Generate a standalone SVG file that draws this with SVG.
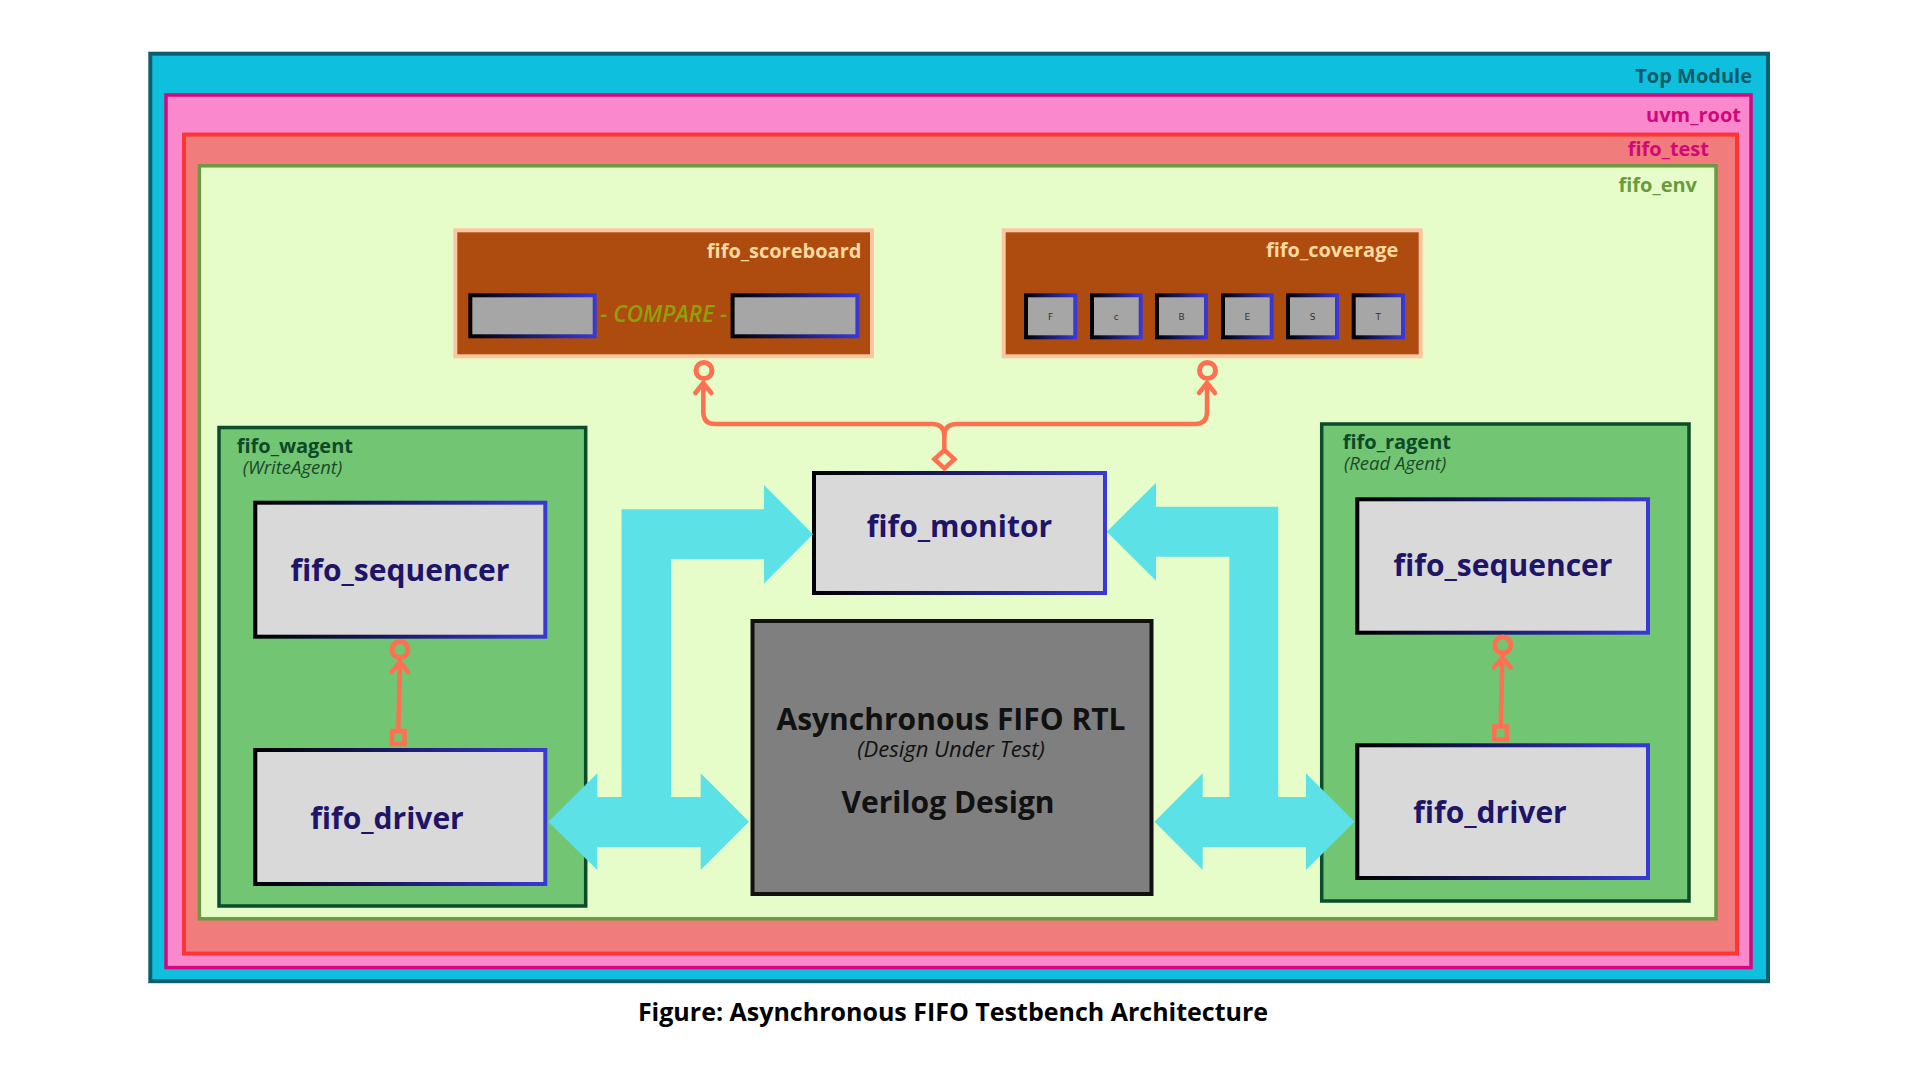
<svg xmlns="http://www.w3.org/2000/svg" width="1920" height="1080" viewBox="0 0 1920 1080">
<defs>
<linearGradient id="bk2bl" x1="0" y1="0" x2="1" y2="0">
<stop offset="0" stop-color="#000000"/>
<stop offset="1" stop-color="#3a38d6"/>
</linearGradient>
<style>
text{font-family:"Open Sans","Liberation Sans",sans-serif}
.lbl{font-size:20px;font-weight:700;text-anchor:end}
.box{fill:#d9d9d9;stroke:url(#bk2bl);stroke-width:4}
.boxt{font-size:30px;font-weight:700;fill:#1e1468;text-anchor:middle}
.agent{fill:#72c573;stroke:#0b4d2a;stroke-width:3.5}
.agt{font-size:20px;font-weight:700;fill:#0c4a28}
.agi{font-size:18.5px;font-style:italic;fill:#1a4a2a}
.sb{fill:#ae4c10;stroke:#fdc6a0;stroke-width:4}
.sbt{font-size:20px;font-weight:700;fill:#f8d9a0;text-anchor:end}
.gbox{fill:#a6a6a6;stroke:url(#bk2bl);stroke-width:4}
.cl{font-family:"DejaVu Sans",sans-serif;font-size:9px;fill:#333;text-anchor:middle}
.con{fill:none;stroke:#ff7050;stroke-width:4.5;stroke-linecap:round;stroke-linejoin:round}
.bus{fill:#5ce1e6}
.dut{font-weight:700;fill:#111;text-anchor:middle}
</style>
</defs>
<rect width="1920" height="1080" fill="#ffffff"/>

<g id="top_module">
<rect x="150.3" y="53.7" width="1617.7" height="927.5" fill="#0ec0de" stroke="#0a5f6f" stroke-width="4"/>
<text class="lbl" x="1752" y="82.7" fill="#0b5c6b">Top Module</text>
</g>
<g id="uvm_root">
<rect x="166" y="95" width="1585" height="872.6" fill="#f989cc" stroke="#d4087e" stroke-width="3.5"/>
<text class="lbl" x="1741" y="121.7" fill="#cf087a">uvm_root</text>
</g>
<g id="fifo_test">
<rect x="184" y="134.6" width="1553" height="819" fill="#f07c7b" stroke="#ff3535" stroke-width="4"/>
<text class="lbl" x="1709" y="155.7" fill="#d0087a">fifo_test</text>
</g>
<g id="fifo_env">
<rect x="199.4" y="165.8" width="1516.6" height="753" fill="#e6fdca" stroke="#6c9a44" stroke-width="3.5"/>
<text class="lbl" x="1697" y="191.7" fill="#6a9a3e">fifo_env</text>
</g>

<g id="fifo_scoreboard">
<rect class="sb" x="455.3" y="230.3" width="416.7" height="126"/>
<text class="sbt" x="861.4" y="258.3">fifo_scoreboard</text>
<rect class="gbox" x="470.3" y="295.3" width="124.4" height="41"/>
<rect class="gbox" x="732.6" y="295.3" width="124.8" height="41"/>
<text x="663.6" y="322" font-size="22.5" font-style="italic" font-weight="600" fill="#8fa10a" text-anchor="middle">- COMPARE -</text>
</g>

<g id="fifo_coverage">
<rect class="sb" x="1003.7" y="230.3" width="417" height="126"/>
<text class="sbt" x="1398.3" y="256.7">fifo_coverage</text>
<rect class="gbox" x="1026" y="295.3" width="49.3" height="42"/>
<rect class="gbox" x="1092" y="295.3" width="48.7" height="42"/>
<rect class="gbox" x="1157" y="295.3" width="49" height="42"/>
<rect class="gbox" x="1223" y="295.3" width="48.7" height="42"/>
<rect class="gbox" x="1288" y="295.3" width="49" height="42"/>
<rect class="gbox" x="1353.7" y="295.3" width="49.3" height="42"/>
<text class="cl" x="1050.7" y="320">F</text>
<text class="cl" x="1116.3" y="320">c</text>
<text class="cl" x="1181.5" y="320">B</text>
<text class="cl" x="1247.3" y="320">E</text>
<text class="cl" x="1312.5" y="320">S</text>
<text class="cl" x="1378.3" y="320">T</text>
</g>

<g id="fifo_wagent">
<rect class="agent" x="219" y="427.5" width="366.7" height="478.5"/>
<text class="agt" x="236.7" y="453">fifo_wagent</text>
<text class="agi" x="242.7" y="473.5">(WriteAgent)</text>
</g>
<g id="w_sequencer">
<rect class="box" x="255.3" y="502.7" width="290" height="134"/>
<text class="boxt" x="400" y="580.6">fifo_sequencer</text>
</g>
<g id="w_driver">
<rect class="box" x="255.3" y="750" width="290" height="134"/>
<text class="boxt" x="387" y="829">fifo_driver</text>
</g>

<g id="fifo_ragent">
<rect class="agent" x="1321.7" y="424" width="367.3" height="477"/>
<text class="agt" x="1342.7" y="449">fifo_ragent</text>
<text class="agi" x="1344" y="470">(Read Agent)</text>
</g>
<g id="r_sequencer">
<rect class="box" x="1357.3" y="499.3" width="290.7" height="133.4"/>
<text class="boxt" x="1503" y="575.7">fifo_sequencer</text>
</g>
<g id="r_driver">
<rect class="box" x="1357.3" y="745.3" width="290.7" height="132.7"/>
<text class="boxt" x="1490" y="823.3">fifo_driver</text>
</g>

<g id="fifo_monitor">
<rect class="box" x="814" y="473" width="291" height="120"/>
<text class="boxt" x="959.5" y="536.7">fifo_monitor</text>
</g>

<g id="dut">
<rect x="752.5" y="621" width="399" height="273" fill="#7f7f7f" stroke="#111111" stroke-width="4"/>
<text class="dut" x="951" y="730" font-size="30">Asynchronous FIFO RTL</text>
<text x="951" y="757" font-size="22" font-style="italic" fill="#111" text-anchor="middle">(Design Under Test)</text>
<text class="dut" x="948" y="813.3" font-size="30">Verilog Design</text>
</g>

<g id="connectors">
<polygon class="bus" points="621.5,509.3 764,509.3 764,485 813,534.3 764,583.5 764,559.3 671.2,559.3 671.2,797 700.7,797 700.7,773.3 749,821.7 700.7,870 700.7,847 597.3,847 597.3,870 548.3,821.7 597.3,773.3 597.3,797 621.5,797"/>
<polygon class="bus" points="1278.2,506.7 1156,506.7 1156,482.7 1106.8,531.7 1156,580.7 1156,556.7 1229.4,556.7 1229.4,797 1202.7,797 1202.7,773.3 1154.5,821.7 1202.7,870 1202.7,847 1306,847 1306,870 1354.5,821.7 1306,773.3 1306,797 1278.2,797"/>

<path class="con" d="M944.3 449 L944.3 436 Q944.3 424 932 424 L715 424 Q703.3 424 703.3 412 L703.3 383"/>
<path class="con" d="M944.3 436 Q944.3 424 957 424 L1195 424 Q1207 424 1207 412 L1207 383"/>
<path class="con" d="M695.3 393 L703.3 383 L711.3 393"/>
<path class="con" d="M1199 393 L1207 383 L1215 393"/>
<circle cx="704" cy="370.5" r="8" fill="#e6fdca" stroke="#ff7050" stroke-width="5"/>
<circle cx="1207.5" cy="370.5" r="8" fill="#e6fdca" stroke="#ff7050" stroke-width="5"/>
<path d="M944.4 450 L954.4 459.2 L944.4 468.4 L934.4 459.2 Z" fill="#e6fdca" stroke="#ff7050" stroke-width="4.5" stroke-linejoin="miter"/>

<path class="con" d="M398.3 730 L399.8 662"/>
<path class="con" d="M391.5 672 L399.8 662 L408 672"/>
<circle cx="400" cy="649.5" r="8" fill="#72c573" stroke="#ff7050" stroke-width="5"/>
<rect x="392" y="731" width="12.5" height="13" fill="#72c573" stroke="#ff7050" stroke-width="4.5"/>

<path class="con" d="M1500.7 726 L1502.4 657.5"/>
<path class="con" d="M1494 667.5 L1502.4 657.5 L1510.7 667.5"/>
<circle cx="1502.7" cy="645" r="8" fill="#72c573" stroke="#ff7050" stroke-width="5"/>
<rect x="1494.3" y="726.5" width="12.5" height="13" fill="#72c573" stroke="#ff7050" stroke-width="4.5"/>
</g>

<text id="caption" x="953" y="1021" font-size="25" font-weight="700" fill="#000" text-anchor="middle">Figure: Asynchronous FIFO Testbench Architecture</text>
</svg>
